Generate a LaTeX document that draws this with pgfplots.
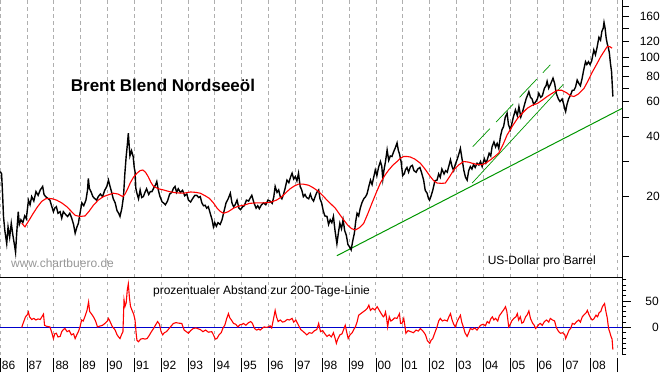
\documentclass[border=0pt]{standalone}
\usepackage{fontspec}
\setmainfont{Liberation Sans}
\usepackage{pgfplots}
\usepackage{pgfplotstable}
\pgfplotsset{compat=1.18}
\definecolor{gridc}{RGB}{175,175,175}
\definecolor{grn}{RGB}{0,150,0}
\definecolor{blu}{RGB}{0,0,204}
\definecolor{wm}{RGB}{150,150,150}
\newcommand{\yl}[1]{\rule[-3pt]{0.9pt}{14pt}\hspace{1.2pt}#1}

\pgfplotstableread{
x y
1986.01 26.7
1986.06 26.0
1986.10 20
1986.13 15.9
1986.18 13.5
1986.25 11.6
1986.30 14.1
1986.36 12.5
1986.42 14.7
1986.48 12.8
1986.55 11.2
1986.58 10.5
1986.62 13.0
1986.68 16.8
1986.72 14.5
1986.78 15.3
1986.85 14.8
1986.92 16.0
1986.98 15.5
1987.06 19.2
1987.12 18.2
1987.18 20.0
1987.26 19.0
1987.34 21.2
1987.42 20.3
1987.50 21.6
1987.59 22.5
1987.64 20.5
1987.70 20.0
1987.78 19.6
1987.86 19.2
1987.92 18.0
1987.99 16.8
1988.04 17.5
1988.10 17.8
1988.16 16.5
1988.24 16.8
1988.30 15.6
1988.36 16.8
1988.44 16.3
1988.52 15.9
1988.60 16.5
1988.67 15.6
1988.74 14.5
1988.80 13.1
1988.86 14.0
1988.92 14.7
1988.98 16.5
1989.05 18.6
1989.12 18.0
1989.20 19.2
1989.26 21.5
1989.29 24.7
1989.33 22.0
1989.40 21.0
1989.46 20.0
1989.52 19.6
1989.60 19.2
1989.66 20.0
1989.74 20.6
1989.82 20.0
1989.90 21.5
1989.98 22.5
1990.04 24.2
1990.10 22.5
1990.16 21.0
1990.22 19.5
1990.29 18.6
1990.36 17.0
1990.42 16.5
1990.47 15.9
1990.54 17.5
1990.60 20.0
1990.65 26.0
1990.70 31.8
1990.74 36
1990.78 41.6
1990.80 38
1990.84 32
1990.90 34
1990.96 31.8
1991.00 28
1991.03 26.7
1991.06 22
1991.10 20.8
1991.16 19.5
1991.22 21.6
1991.28 19.8
1991.34 20.0
1991.40 21.0
1991.46 21.9
1991.54 20.5
1991.60 21.2
1991.66 21.2
1991.72 22.0
1991.80 23.0
1991.84 23.8
1991.90 21.5
1991.96 20.0
1992.04 18.8
1992.09 18.6
1992.16 18.2
1992.24 19.0
1992.32 20.6
1992.40 21.0
1992.46 22.0
1992.52 22.5
1992.58 21.0
1992.64 21.9
1992.72 21.0
1992.80 21.5
1992.88 20.2
1992.96 20.6
1993.02 19.2
1993.10 18.8
1993.18 19.6
1993.26 20.3
1993.33 20.3
1993.40 19.8
1993.46 20.0
1993.52 18.6
1993.58 18.0
1993.64 18.1
1993.70 17.5
1993.76 17.8
1993.83 16.5
1993.90 15.3
1993.95 14.1
1994.00 14.8
1994.06 14.2
1994.12 14.8
1994.20 14.5
1994.27 15.3
1994.35 17.0
1994.42 18.6
1994.50 19.5
1994.58 20.8
1994.64 18.6
1994.70 17.8
1994.76 18.2
1994.83 19.2
1994.90 17.5
1994.96 17.2
1995.04 17.8
1995.10 18.0
1995.18 19.2
1995.26 19.0
1995.33 19.8
1995.38 20.3
1995.46 18.6
1995.54 17.5
1995.60 18.0
1995.66 17.4
1995.74 18.2
1995.82 18.6
1995.90 18.2
1995.98 19.2
1996.06 19.0
1996.14 18.5
1996.20 20.0
1996.25 22.5
1996.32 21.0
1996.38 21.6
1996.44 20.0
1996.50 19.5
1996.56 20.5
1996.62 22.0
1996.69 24.2
1996.76 23.5
1996.82 25.0
1996.88 26.2
1996.94 24.5
1997.00 25.2
1997.06 24.0
1997.12 26.2
1997.18 22.5
1997.24 21.6
1997.30 20.0
1997.36 20.5
1997.42 19.8
1997.50 19.5
1997.56 20.6
1997.62 19.5
1997.68 19.0
1997.74 20.0
1997.80 21.0
1997.87 21.6
1997.92 19.5
1997.98 18.6
1998.04 17.0
1998.10 16.0
1998.18 15.9
1998.24 14.5
1998.30 15.3
1998.36 14.8
1998.42 15.9
1998.48 13.5
1998.55 11.6
1998.60 13.0
1998.66 14.7
1998.72 13.8
1998.78 15.3
1998.84 13.5
1998.90 12.8
1998.96 11.5
1999.02 11.2
1999.08 10.8
1999.14 12.0
1999.20 13.1
1999.25 15.0
1999.30 16.5
1999.36 16.0
1999.42 17.5
1999.48 18.6
1999.55 19.5
1999.62 20.0
1999.67 20.6
1999.74 22.5
1999.80 24.2
1999.86 23.0
1999.92 25.0
1999.98 27.2
2000.04 25.5
2000.10 28.0
2000.17 30.0
2000.22 28.5
2000.26 24.5
2000.30 27
2000.36 30
2000.42 34.3
2000.48 30.4
2000.54 32
2000.60 31.8
2000.66 33.5
2000.72 35
2000.79 37.2
2000.84 34
2000.88 32.8
2000.94 30
2001.00 25.5
2001.06 26
2001.10 27.2
2001.16 28
2001.22 26.5
2001.29 28.3
2001.36 28.7
2001.42 27
2001.50 26.5
2001.56 27.5
2001.64 28
2001.70 26.5
2001.78 24.2
2001.84 21.5
2001.91 20.8
2001.96 19.6
2002.00 19.2
2002.05 20.0
2002.12 21.5
2002.20 24.0
2002.28 24.2
2002.34 26
2002.40 25
2002.46 27.5
2002.54 26
2002.60 27
2002.66 26.5
2002.72 28.5
2002.78 30.6
2002.84 28.3
2002.90 27
2002.96 29
2003.04 31
2003.10 33
2003.15 34.9
2003.20 31.6
2003.28 27
2003.34 25
2003.40 24.2
2003.46 27
2003.52 28.3
2003.58 27.5
2003.64 29
2003.70 28
2003.77 29.4
2003.84 28.8
2003.90 30
2003.96 28.3
2004.04 31
2004.10 29.5
2004.15 30.6
2004.22 33
2004.28 32
2004.33 35.6
2004.40 37.6
2004.46 35.5
2004.52 37
2004.58 34.9
2004.64 40
2004.70 43.3
2004.76 45
2004.82 50
2004.89 52.4
2004.94 46
2005.01 43.3
2005.06 46
2005.12 50
2005.20 54.5
2005.27 51
2005.33 56.6
2005.40 50.2
2005.46 53
2005.54 58
2005.60 62
2005.66 65
2005.70 67.2
2005.76 63
2005.82 61.8
2005.88 58
2005.96 60
2006.02 62
2006.07 66
2006.14 63
2006.20 64
2006.28 70
2006.34 72
2006.38 75.8
2006.44 70
2006.52 74
2006.60 78.6
2006.66 74
2006.72 66
2006.80 61.8
2006.86 60
2006.94 61.8
2007.00 58
2007.04 55
2007.07 53.4
2007.12 58
2007.18 61.8
2007.26 65
2007.32 68.4
2007.38 68.4
2007.44 71
2007.50 76.9
2007.56 74
2007.62 72
2007.68 78
2007.74 86
2007.81 95
2007.86 92
2007.92 95
2007.98 92
2008.04 96
2008.12 108.9
2008.18 103
2008.24 112
2008.31 126
2008.37 122
2008.42 135
2008.47 140
2008.50 149.6
2008.54 140
2008.58 125
2008.62 117
2008.66 112
2008.70 105
2008.74 93
2008.78 85
2008.83 63.6
}\price

\pgfplotstableread{
x y
1986.81 14.7
1986.93 14.1
1987.08 15.2
1987.24 16.5
1987.40 17.8
1987.55 18.9
1987.70 19.5
1987.80 19.6
1987.95 19.5
1988.11 19.2
1988.30 18.6
1988.49 17.8
1988.65 16.9
1988.80 16.1
1988.98 15.9
1989.17 16.0
1989.32 16.9
1989.48 18.1
1989.66 19.2
1989.85 20.0
1990.03 20.4
1990.22 20.8
1990.40 20.6
1990.57 20.0
1990.66 20.6
1990.75 21.8
1990.85 23.4
1990.97 25.0
1991.10 26.2
1991.22 27.0
1991.32 27.2
1991.42 26.5
1991.52 25.2
1991.62 23.6
1991.72 22.5
1991.90 21.9
1992.09 21.6
1992.30 21.2
1992.55 20.9
1992.84 20.8
1993.10 21.1
1993.30 21.0
1993.46 20.8
1993.64 20.2
1993.80 19.6
1993.95 18.6
1994.10 17.4
1994.22 16.8
1994.33 16.5
1994.50 16.8
1994.70 17.5
1994.88 17.9
1995.07 18.1
1995.30 18.5
1995.55 18.6
1995.82 18.6
1996.05 18.7
1996.30 19.2
1996.50 20.0
1996.66 21.0
1996.81 21.9
1996.96 22.6
1997.12 23.1
1997.30 23.1
1997.50 22.8
1997.68 22.1
1997.87 21.2
1998.03 20.2
1998.18 19.2
1998.34 18.3
1998.49 17.5
1998.65 16.3
1998.80 15.3
1998.95 14.4
1999.10 13.8
1999.24 13.6
1999.40 14.0
1999.55 14.7
1999.70 16.4
1999.86 18.6
2000.02 21.0
2000.17 23.4
2000.33 25.5
2000.48 27.2
2000.64 28.8
2000.79 30.0
2000.92 31.2
2001.04 31.8
2001.16 31.8
2001.29 31.6
2001.46 30.8
2001.66 29.4
2001.84 27.4
2002.03 25.2
2002.16 24.0
2002.28 23.4
2002.45 23.3
2002.59 23.4
2002.75 25.2
2002.90 27.2
2003.08 28.8
2003.27 30.0
2003.45 29.8
2003.59 29.4
2003.78 29.0
2003.96 28.9
2004.12 29.6
2004.27 30.6
2004.43 31.8
2004.58 33.1
2004.74 36.5
2004.89 40.8
2005.08 45.0
2005.27 49.2
2005.46 52.5
2005.64 55.5
2005.83 57.5
2006.01 58.6
2006.20 61.0
2006.38 63.6
2006.57 66.0
2006.76 68.4
2006.92 68.4
2007.10 66.5
2007.25 64.2
2007.38 63.6
2007.55 65.5
2007.75 69.7
2007.90 76.0
2008.06 84.2
2008.22 92.0
2008.37 100.4
2008.50 107.0
2008.62 113.3
2008.72 113.0
2008.80 111.2
}\ma

\pgfplotstableread{
x y
1986.81 0
1986.86 7.5
1986.95 20
1987.02 24
1987.06 29
1987.10 20
1987.18 15
1987.26 17
1987.34 14
1987.42 16
1987.50 15
1987.56 20
1987.62 25
1987.66 4
1987.74 2
1987.86 1
1987.92 -8
1987.99 -21
1988.04 -12
1988.10 -11
1988.16 -18
1988.24 -17
1988.30 -8
1988.36 -4
1988.42 -2
1988.50 -8
1988.58 -6
1988.66 -14
1988.74 -12
1988.80 -21
1988.86 -14
1988.92 -8
1988.98 1
1989.04 14
1989.10 12
1989.16 20
1989.24 32
1989.30 48
1989.34 30
1989.40 26
1989.48 20
1989.56 12
1989.63 1
1989.72 2.5
1989.82 4
1989.92 8
1990.00 12
1990.04 17
1990.10 11
1990.18 2
1990.29 -5
1990.36 -14
1990.42 -18
1990.47 -21
1990.54 -12
1990.58 -8
1990.62 52
1990.66 40
1990.70 46
1990.74 70
1990.78 82
1990.82 57
1990.86 40
1990.92 32
1990.98 25
1991.03 14
1991.07 -10
1991.10 -24
1991.16 -27
1991.24 -22
1991.32 -21
1991.40 -22
1991.48 -21
1991.56 -15
1991.64 -8
1991.72 -2
1991.80 5
1991.87 11
1991.94 6
1992.00 -8
1992.06 -14
1992.12 -10
1992.20 -8
1992.30 -2
1992.40 4
1992.46 7.5
1992.56 9
1992.66 8
1992.77 7.5
1992.86 -5
1992.94 -8
1993.02 -11
1993.10 -6
1993.20 -2
1993.30 -1
1993.40 -3
1993.46 -4
1993.56 -8
1993.66 -5
1993.76 -9
1993.89 -8
1993.96 -15
1994.02 -22
1994.08 -21
1994.16 -14
1994.24 -10
1994.30 -2
1994.38 5
1994.44 16
1994.51 26
1994.56 18
1994.62 14
1994.70 7.5
1994.78 6
1994.86 1
1994.94 5
1995.02 6
1995.07 7.5
1995.16 4
1995.26 9
1995.34 11
1995.40 8
1995.48 -2
1995.56 -5
1995.64 -3
1995.69 -5
1995.76 -2
1995.84 1
1995.92 0
1996.00 1
1996.06 3
1996.12 -1
1996.18 14
1996.25 32
1996.30 20
1996.36 11
1996.44 14
1996.52 10
1996.60 11
1996.70 15
1996.78 14
1996.88 17
1996.94 10
1997.02 14
1997.12 4
1997.20 -4
1997.30 -8
1997.43 -14
1997.52 -10
1997.62 -11
1997.72 -6
1997.80 -4
1997.87 7.5
1997.94 -8
1998.02 -6
1998.10 -12
1998.18 -17
1998.26 -14
1998.34 -18
1998.42 -10
1998.48 -20
1998.53 -30
1998.58 -22
1998.66 -14
1998.74 -12
1998.80 -4
1998.86 4
1998.92 -10
1998.97 -21
1999.04 -14
1999.12 -10
1999.20 -2
1999.24 1
1999.30 10
1999.36 23
1999.44 26
1999.52 29
1999.60 32
1999.68 36
1999.74 42
1999.80 32
1999.88 36
1999.96 33
2000.05 39
2000.12 33
2000.20 26
2000.28 20
2000.32 22
2000.36 29
2000.40 18
2000.44 1
2000.50 20
2000.56 12
2000.62 14
2000.70 18
2000.79 17
2000.84 22
2000.88 26
2000.92 7.5
2000.98 8
2001.04 17
2001.08 4
2001.12 -11
2001.20 -6
2001.30 -8
2001.40 -10
2001.50 -5
2001.58 -7
2001.66 -2
2001.74 -6
2001.80 -10
2001.85 -14
2001.92 -25
2002.01 -30
2002.06 -24
2002.12 -21
2002.20 -10
2002.28 1
2002.34 12
2002.40 17
2002.48 12
2002.56 14
2002.66 12
2002.72 20
2002.78 26
2002.84 14
2002.90 6
2002.96 1
2003.04 12
2003.10 18
2003.15 23
2003.20 10
2003.26 1
2003.32 -10
2003.40 -17
2003.46 -10
2003.52 -2
2003.60 -4
2003.68 -1
2003.77 -5
2003.84 0
2003.90 4
2004.00 6
2004.08 3
2004.15 11
2004.22 8
2004.28 16
2004.34 20
2004.40 14
2004.46 17
2004.54 12
2004.60 22
2004.66 26
2004.70 29
2004.76 33
2004.83 39
2004.88 30
2004.95 1
2005.00 5
2005.06 12
2005.14 17
2005.22 20
2005.27 26
2005.32 14
2005.38 20
2005.44 8
2005.50 10
2005.58 20
2005.64 24
2005.70 31
2005.76 17
2005.84 8
2005.90 4
2005.95 -2
2006.02 2
2006.08 6
2006.13 7.5
2006.20 4
2006.28 11
2006.36 14
2006.44 10
2006.50 17
2006.58 14
2006.66 12
2006.72 0
2006.81 -8
2006.88 -11
2006.96 -10
2007.04 -14
2007.07 -21
2007.12 -15
2007.20 -5
2007.26 -2
2007.32 7.5
2007.40 6
2007.48 11
2007.56 14
2007.62 10
2007.69 20
2007.76 24
2007.84 28
2007.88 32
2007.94 24
2008.00 18
2008.06 14
2008.12 16
2008.20 23
2008.26 20
2008.32 28
2008.38 30
2008.44 39
2008.52 45
2008.57 30
2008.62 18
2008.67 -2
2008.72 -10
2008.76 -17
2008.80 -22
2008.83 -42
}\osc

\begin{document}
\begin{tikzpicture}[x=1pt,y=1pt]
\pgfplotsset{
  every axis/.append style={
    scale only axis, width=622pt,
    xmin=1986, xmax=2009.17,
    axis line style={draw=none},
    xtick={1986,1987,...,2009},
    xmajorgrids,
    grid style={gridc, dash pattern=on 3.5pt off 3.5pt, line width=0.6pt},
    /pgf/number format/assume math mode=true,
    tick label style={font=\fontsize{12}{14}\selectfont},
    clip mode=individual,
    ytick pos=right, yticklabel pos=right,
    ytick align=outside,
    major x tick style={draw=none},
    y tick style={black, line width=0.7pt},
  }
}
% ---------------- top panel
\begin{axis}[at={(0pt,96pt)}, anchor=south west, height=277pt,
  ymode=log, ymin=7.9, ymax=194,
  xticklabels={},
  ytick={10,20,30,40,50,60,70,80,90,100,120,140,160,180},
  yticklabels={,20,,40,,60,,80,,100,120,,160,},
  major tick length=7pt,
  yticklabel style={anchor=east, inner sep=0pt, xshift=31pt},
]
\addplot[grn, line width=1pt] coordinates {(1998.55,10.1) (2009.17,55.4)};
\addplot[grn, line width=0.7pt] coordinates {(2003.59,23.4) (2006.98,73.1)};
\addplot[grn, line width=0.7pt, dash pattern=on 25pt off 9pt] coordinates {(2003.61,35.6) (2006.50,91.7)};
\addplot[black, line width=1.4pt] table[x=x,y=y] {\price};
\addplot[red, line width=1.1pt] table[x=x,y=y] {\ma};
\draw[black, line width=0.8pt] (rel axis cs:1,0) -- (rel axis cs:1,1);
\node[font=\fontsize{17}{20}\selectfont\bfseries] at (rel axis cs:0.262,0.693) {Brent Blend Nordseeöl};
\node[font=\fontsize{12}{14}\selectfont, text=wm] at (rel axis cs:0.1005,0.05) {www.chartbuero.de};
\node[font=\fontsize{12}{14}\selectfont] at (rel axis cs:0.871,0.055) {US-Dollar pro Barrel};
\end{axis}
% ---------------- lower panel
\begin{axis}[at={(0pt,18pt)}, anchor=south west, height=78pt,
  ymin=-52, ymax=95,
  ytick={0,50}, minor ytick={-50,-40,-30,-20,-10,10,20,30,40,60,70,80,90},
  major tick length=8.7pt, minor tick length=4.3pt,
  yticklabel style={anchor=east, inner sep=0pt, xshift=28.3pt},
  xtick pos=bottom, xticklabel pos=lower,
  xticklabels={\yl{86},\yl{87},\yl{88},\yl{89},\yl{90},\yl{91},\yl{92},\yl{93},\yl{94},\yl{95},\yl{96},\yl{97},\yl{98},\yl{99},\yl{00},\yl{01},\yl{02},\yl{03},\yl{04},\yl{05},\yl{06},\yl{07},\yl{08},\yl{}},
  xticklabel style={anchor=north west, inner sep=0pt, xshift=-0.45pt, yshift=-3pt},
]
\addplot[blu, line width=1pt] coordinates {(1986,0) (2009.17,0)};
\addplot[red, line width=1.1pt] table[x=x,y=y] {\osc};
\draw[black, line width=0.8pt] (rel axis cs:0,1) -- (rel axis cs:1,1);
\draw[black, line width=0.8pt] (rel axis cs:1,0) -- (rel axis cs:1,1);
\node[font=\fontsize{12}{14}\selectfont] at (rel axis cs:0.4204,0.81) {prozentualer Abstand zur 200-Tage-Linie};
\end{axis}
\pgfresetboundingbox
\path[use as bounding box] (0,0) rectangle (663,373);
\end{tikzpicture}
\end{document}
